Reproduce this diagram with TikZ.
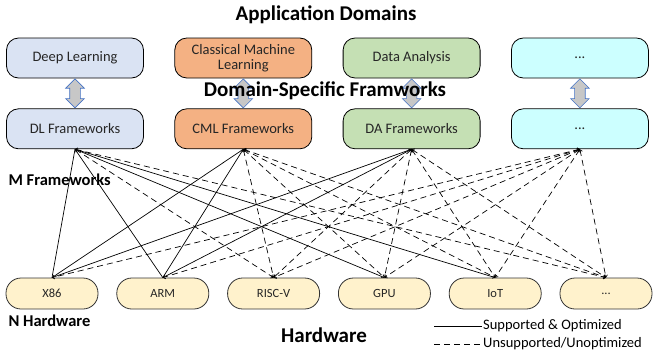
\documentclass[tikz,border=0pt]{standalone}
\usepackage{fontspec}
\setmainfont{Carlito}
\usetikzlibrary{shapes.arrows}
\usetikzlibrary{arrows.meta}
\usetikzlibrary{positioning}
\usetikzlibrary{calc}

\definecolor{dlblue}{HTML}{DAE3F3}
\definecolor{cmlorange}{HTML}{F4B183}
\definecolor{dagreen}{HTML}{C5E0B4}
\definecolor{morecyan}{HTML}{CCFFFF}
\definecolor{hwyellow}{HTML}{FFF2CC}
\definecolor{arrowblue}{HTML}{4472C4}

\begin{document}
\begin{tikzpicture}[
		x=1pt, y=-1pt,
		domainbox/.style={
			rectangle,
			rounded corners=12pt,
			draw,
			line width=0.8pt,
			minimum width=137pt,
			minimum height=40pt,
			align=center,
			text=black!85,
			font=\fontsize{14.5}{15.5}\selectfont
		},
		hwbox/.style={
			rectangle,
			rounded corners=15pt,
			draw=black!80,
			line width=0.8pt,
			fill=hwyellow,
			minimum width=92pt,
			minimum height=31pt,
			text=black!85,
			font=\fontsize{12.5}{14}\selectfont
		},
		linkarrow/.style={
			double arrow,
			draw=arrowblue,
			fill=black!22,
			line width=0.6pt,
			minimum height=29pt,
			double arrow head extend=4pt,
			inner xsep=0pt,
			inner ysep=5pt,
			rotate=90
		},
		heading/.style={font=\bfseries\fontsize{21}{23}\selectfont},
		sidelabel/.style={font=\bfseries\fontsize{16.5}{18}\selectfont, anchor=west},
		legendtext/.style={font=\fontsize{14.5}{16}\selectfont, anchor=west, inner sep=1pt},
		ok/.style={line width=0.7pt},
		notok/.style={line width=0.7pt, dash pattern=on 6pt off 4pt},
		notoktips/.style={notok, {Straight Barb[length=2pt,width=4pt]}-{Straight Barb[length=2pt,width=4pt]}}
		]
		
		\useasboundingbox (0,0) rectangle (653,360);
		
		% domains
		\node[domainbox, fill=dlblue] (deep) at (75,58) {Deep Learning};
		\node[domainbox, fill=cmlorange, right=30.5pt of deep] (classic) {Classical Machine\\Learning};
		\node[domainbox, fill=dagreen, right=30.5pt of classic] (data) {Data Analysis};
		\node[domainbox, fill=morecyan, right=30.5pt of data] (dmore) {...};
		
		% frameworks
		\node[domainbox, fill=dlblue, below=30pt of deep] (dl) {DL Frameworks};
		\node[domainbox, fill=cmlorange, below=30pt of classic] (cml) {CML Frameworks};
		\node[domainbox, fill=dagreen, below=30pt of data] (da) {DA Frameworks};
		\node[domainbox, fill=morecyan, below=30pt of dmore] (fmore) {...};
		
		% hardware
		\node[hwbox] (xsix) at (52,293.5) {X86};
		\node[hwbox, right=18pt of xsix] (arm) {ARM};
		\node[hwbox, right=18pt of arm] (riscv) {RISC-V};
		\node[hwbox, right=18pt of riscv] (gpu) {GPU};
		\node[hwbox, right=18pt of gpu] (iot) {IoT};
		\node[hwbox, right=18pt of iot] (hmore) {...};
		
		% links domain <-> framework
		\node[linkarrow] (deeplink) at ($(deep.south)!0.5!(dl.north)$) {};
		\node[linkarrow] (classiclink) at ($(classic.south)!0.5!(cml.north)$) {};
		\node[linkarrow] (datalink) at ($(data.south)!0.5!(da.north)$) {};
		\node[linkarrow] (morelink) at ($(dmore.south)!0.5!(fmore.north)$) {};
		
		% titles
		\node[heading] (apptitle) at (326,15) {Application Domains};
		\node[heading] (fwtitle) at (325,91) {Domain-Specific Framworks};
		\node[heading] (hwtitle) at (324,335) {Hardware};
		\node[sidelabel] (mlabel) at (5,180) {M Frameworks};
		\node[sidelabel] (nlabel) at (5,321) {N Hardware};
		
		%%%%%%%%%%
		
		\foreach \fw/\hw in {dl/xsix, dl/arm, dl/gpu, dl/iot, cml/xsix, cml/arm, da/xsix, da/arm}
		\draw[ok] (\fw.south) -- (\hw.north);
		
		\foreach \fw/\hw in {dl/riscv, dl/hmore, cml/riscv, cml/gpu, cml/iot, cml/hmore, da/riscv, da/gpu, da/iot, da/hmore, fmore/xsix, fmore/arm, fmore/riscv, fmore/gpu, fmore/iot, fmore/hmore}
		\draw[notoktips] (\fw.south) -- (\hw.north);
		
		% legend
		\node[legendtext] (oklabel) at (482,326) {Supported \& Optimized};
		\node[legendtext] (notoklabel) at (482,344) {Unsupported/Unoptimized};
		\coordinate (okstart) at (434,326);
		\coordinate (notokstart) at (434,344);
		\draw[ok] (okstart) -- (oklabel.west);
		\draw[notok] (notokstart) -- (notoklabel.west);
		
	\end{tikzpicture}
\end{document}
